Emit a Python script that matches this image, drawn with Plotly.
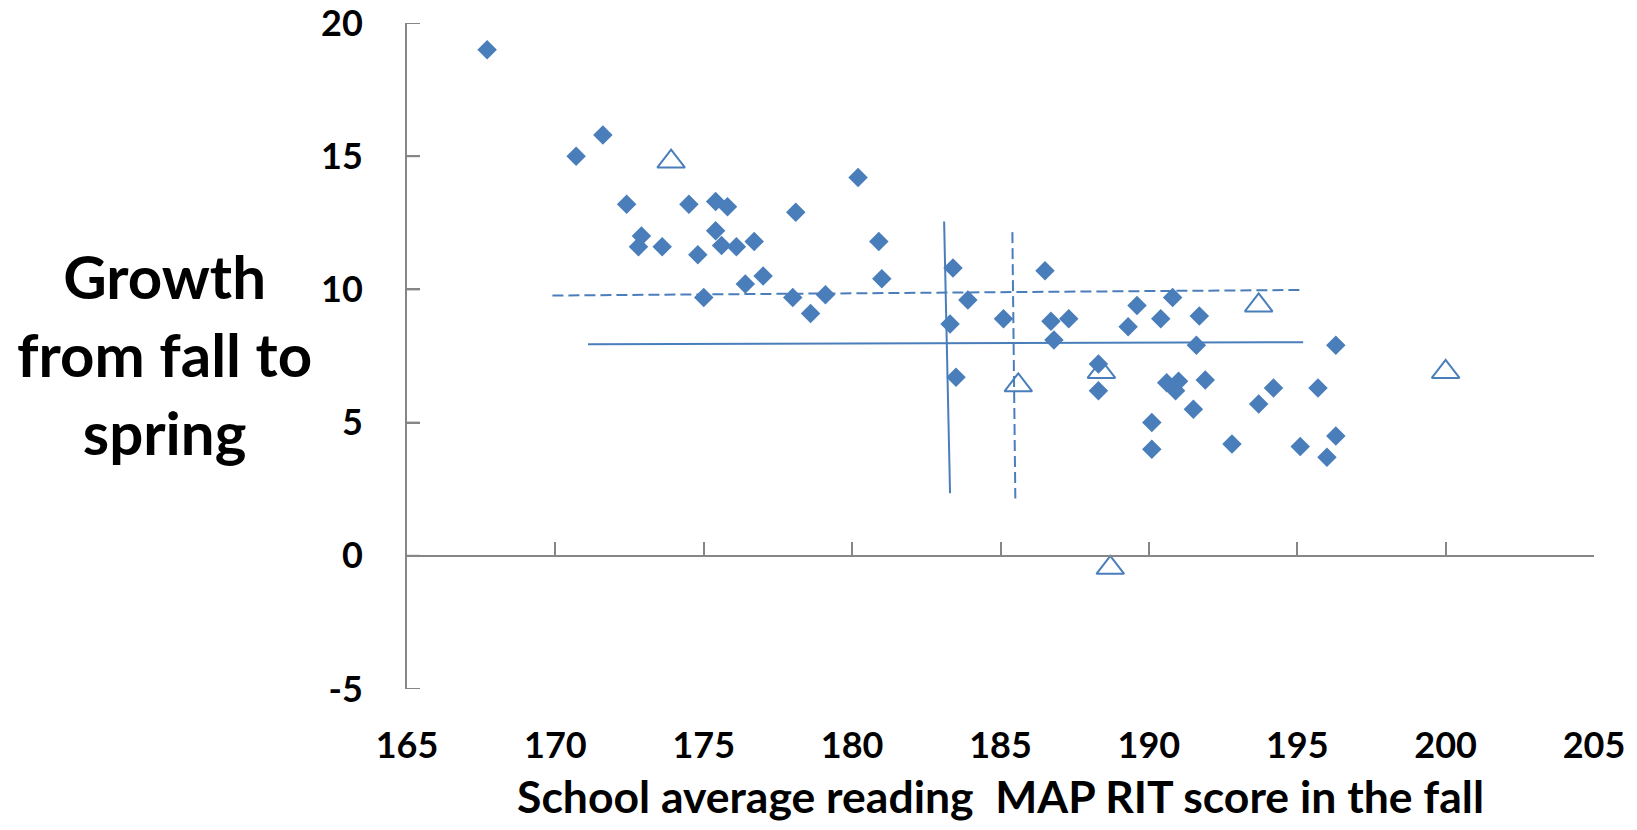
import plotly.graph_objects as go

# ---- data ----
diamond_x = [167.7, 170.7, 171.6, 172.4, 172.9, 172.8, 173.6, 174.5, 174.8, 175.0,
             175.4, 175.8, 175.4, 175.6, 176.1, 176.7, 176.4, 177.0, 178.1, 178.0,
             178.6, 179.1, 180.2, 180.9, 181.0, 183.4, 183.9, 183.3, 183.5, 185.1,
             186.5, 186.7, 187.3, 186.8, 188.3, 188.3, 189.6, 189.3, 190.4, 190.8,
             191.7, 191.6, 190.6, 191.0, 190.9, 191.9, 191.5, 190.1, 190.1, 192.8,
             194.2, 193.7, 195.7, 195.1, 196.3, 196.0, 196.3]
diamond_y = [19.0, 15.0, 15.8, 13.2, 12.0, 11.6, 11.6, 13.2, 11.3, 9.7,
             13.3, 13.1, 12.2, 11.65, 11.6, 11.8, 10.2, 10.5, 12.9, 9.7,
             9.1, 9.8, 14.2, 11.8, 10.4, 10.8, 9.6, 8.7, 6.7, 8.9,
             10.7, 8.8, 8.9, 8.1, 7.2, 6.2, 9.4, 8.6, 8.9, 9.7,
             9.0, 7.9, 6.5, 6.55, 6.2, 6.6, 5.5, 5.0, 4.0, 4.2,
             6.3, 5.7, 6.3, 4.1, 4.5, 3.7, 7.9]

triangle_x = [173.9, 185.6, 188.4, 188.7, 193.7, 200.0]
triangle_y = [14.8, 6.4, 6.9, -0.45, 9.4, 6.9]

solid_h_x = [171.1, 195.2]
solid_h_y = [7.94, 8.02]
dashed_h_x = [169.9, 195.15]
dashed_h_y = [9.77, 9.98]
solid_v_x = [183.1, 183.3]
solid_v_y = [12.55, 2.35]
dashed_v_x = [185.4, 185.5]
dashed_v_y = [12.15, 2.15]

x_ticks = [165, 170, 175, 180, 185, 190, 195, 200, 205]
y_ticks = [-5, 0, 5, 10, 15, 20]
y_ticklabels = ["-5", "0", "5", "10", "15", "20"]
x_range = [165, 205]
y_range = [-5, 20]

x_title = "School average reading  MAP RIT score in the fall"
y_title = "Growth<br>from fall to<br>spring"

BLUE = "#4a7ebb"
AXIS = "#868686"
FONT = "Lato"

fig = go.Figure()

line_style = dict(color=BLUE, width=2)
dash_style = dict(color=BLUE, width=2, dash="11px,5px")
fig.add_trace(go.Scatter(x=solid_h_x, y=solid_h_y, mode="lines", line=line_style,
                         showlegend=False, hoverinfo="skip"))
fig.add_trace(go.Scatter(x=dashed_h_x, y=dashed_h_y, mode="lines", line=dash_style,
                         showlegend=False, hoverinfo="skip"))
fig.add_trace(go.Scatter(x=solid_v_x, y=solid_v_y, mode="lines", line=line_style,
                         showlegend=False, hoverinfo="skip"))
fig.add_trace(go.Scatter(x=dashed_v_x, y=dashed_v_y, mode="lines", line=dash_style,
                         showlegend=False, hoverinfo="skip"))

fig.add_trace(go.Scatter(x=diamond_x, y=diamond_y, mode="markers",
                         marker=dict(symbol="diamond", size=15, color=BLUE,
                                     line=dict(width=0)),
                         showlegend=False))
fig.add_trace(go.Scatter(x=triangle_x, y=triangle_y, mode="markers", xaxis="x2",
                         marker=dict(symbol="triangle-up-open", size=24, color=BLUE,
                                     line=dict(width=2, color=BLUE)),
                         showlegend=False))

# inside tick marks of the vertical axis (13 px long, pointing into the plot)
for v in y_ticks:
    fig.add_shape(type="line", xref="x", yref="y", xsizemode="pixel",
                  xanchor=x_range[0], x0=0, x1=13, y0=v, y1=v,
                  line=dict(color=AXIS, width=2), layer="above")

tick_font = dict(family=FONT, size=36, color="black", weight="bold")

fig.update_layout(
    width=1621, height=814,
    margin=dict(l=398.5, r=34.7, t=15.3, b=132.7, autoexpand=False),
    paper_bgcolor="white", plot_bgcolor="white",
    xaxis=dict(range=x_range, tickvals=x_ticks, ticktext=[str(v) for v in x_ticks],
               showline=False, showgrid=False, zeroline=False, ticks="",
               tickfont=tick_font, ticklabelstandoff=32, ticklabeloverflow="allow",
               title=dict(text=x_title, font=dict(family=FONT, size=44.5, color="black",
                                                  weight="bold"), standoff=20)),
    xaxis2=dict(range=x_range, tickvals=x_ticks, overlaying="x", anchor="free",
                position=(0 - y_range[0]) / (y_range[1] - y_range[0]),
                showline=True, linecolor=AXIS, linewidth=2,
                ticks="inside", ticklen=13, tickwidth=2, tickcolor=AXIS,
                showticklabels=False, showgrid=False, zeroline=False),
    yaxis=dict(range=y_range, tickvals=y_ticks, ticktext=y_ticklabels,
               showline=True, linecolor=AXIS,
               linewidth=2, ticks="inside", ticklen=13, tickwidth=2, tickcolor=AXIS,
               showgrid=False, zeroline=False, tickfont=tick_font,
               ticklabelstandoff=35, ticklabeloverflow="allow"),
    annotations=[dict(text=y_title, xref="paper", yref="paper", x=-0.204, y=0.503,
                      xanchor="center", yanchor="middle", showarrow=False,
                      align="center",
                      font=dict(family=FONT, size=60, color="black", weight="bold"))],
)

fig.write_html("out.html")
